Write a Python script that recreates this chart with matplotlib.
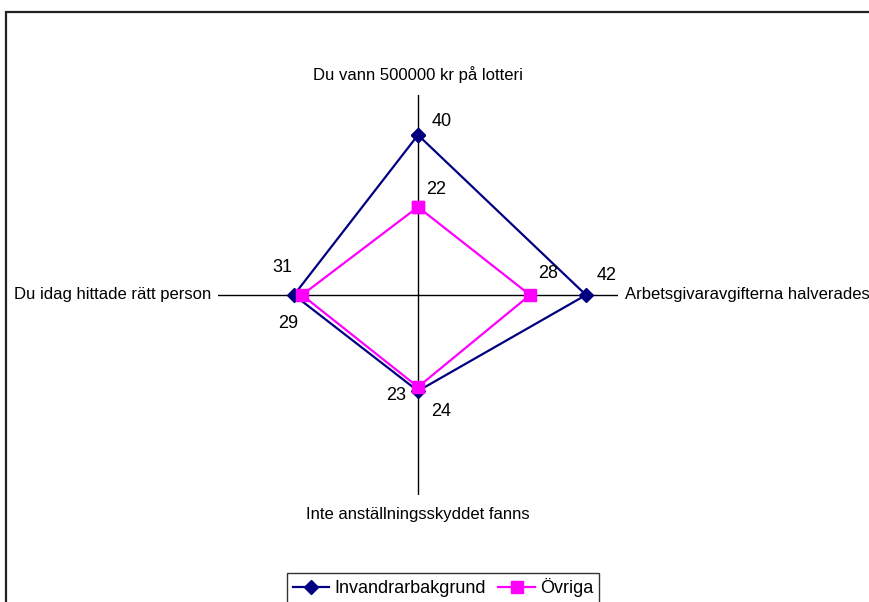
import numpy as np
import matplotlib
matplotlib.use("Agg")
import matplotlib.pyplot as plt
from matplotlib.patches import Rectangle

categories = ["Du vann 500000 kr på lotteri",
              "Arbetsgivaravgifterna halverades",
              "Inte anställningsskyddet fanns",
              "Du idag hittade rätt person"]
series_names = ["Invandrarbakgrund", "Övriga"]
invandrar = [40, 42, 24, 31]
ovriga = [22, 28, 23, 29]
r_max = 50

plt.rcParams['font.family'] = ['Liberation Sans', 'DejaVu Sans']

fig = plt.figure(figsize=(8.7, 6.02), dpi=100)
W, H = 870, 602
cx, cy, R = 418, 295, 200
ax = fig.add_axes([(cx - R) / W, (H - cy - R) / H, 2 * R / W, 2 * R / H],
                  projection='polar')
ax.set_theta_zero_location('N')
ax.set_theta_direction(-1)
ax.set_ylim(0, r_max)
ax.grid(False)
ax.spines['polar'].set_visible(False)
ax.set_xticks([])
ax.set_yticks([])
ax.patch.set_alpha(0)

n = len(categories)
theta = np.arange(n) * 2 * np.pi / n

# axis lines
for t in theta:
    ax.plot([t, t], [0, r_max], color='black', lw=1.0, zorder=1)

navy = '#000080'
pink = '#FF00FF'
th_c = np.append(theta, theta[0])
ax.plot(th_c, invandrar + [invandrar[0]], color=navy, lw=1.6, marker='D',
        ms=7.5, mfc=navy, mec=navy, zorder=3, label=series_names[0], clip_on=False)
ax.plot(th_c, ovriga + [ovriga[0]], color=pink, lw=1.6, marker='s',
        ms=9, mfc=pink, mec=pink, zorder=4, label=series_names[1], clip_on=False)

# value labels (offsets in pixels)
off_inv = [(24, 13), (21, 19), (23, -21), (-12, 27)]
off_ovr = [(18, 18), (18, 22), (-22, -9), (-14, -28)]
for t, v, o in zip(theta, invandrar, off_inv):
    ax.annotate(str(v), (t, v), xytext=o, textcoords='offset pixels',
                ha='center', va='center', fontsize=13, color='black')
for t, v, o in zip(theta, ovriga, off_ovr):
    ax.annotate(str(v), (t, v), xytext=o, textcoords='offset pixels',
                ha='center', va='center', fontsize=13, color='black')

# category labels
cat_pos = [((0, 20), 'center', 'center'),
           ((7, 0), 'left', 'center'),
           ((0, -20), 'center', 'center'),
           ((-7, 0), 'right', 'center')]
for t, lab, (o, ha, va) in zip(theta, categories, cat_pos):
    ax.annotate(lab, (t, r_max), xytext=o, textcoords='offset pixels',
                ha=ha, va=va, fontsize=12, color='black', annotation_clip=False)

# chart frame (partly cut off)
fig.patches.append(Rectangle((6 / W, -0.1), 1.2, 1 - 12 / H + 0.1,
                             transform=fig.transFigure, fill=False,
                             edgecolor='#222222', lw=1.6))

leg = fig.legend(loc='upper center', bbox_to_anchor=(443 / W, 1 - 573 / H),
                 ncol=2, fontsize=13, frameon=True, fancybox=False,
                 edgecolor='black', handlelength=2.0, columnspacing=0.7,
                 handletextpad=0.3, borderpad=0.3, borderaxespad=0)
leg.get_frame().set_linewidth(1.0)

fig.savefig('out.png', dpi=100, facecolor='white')
